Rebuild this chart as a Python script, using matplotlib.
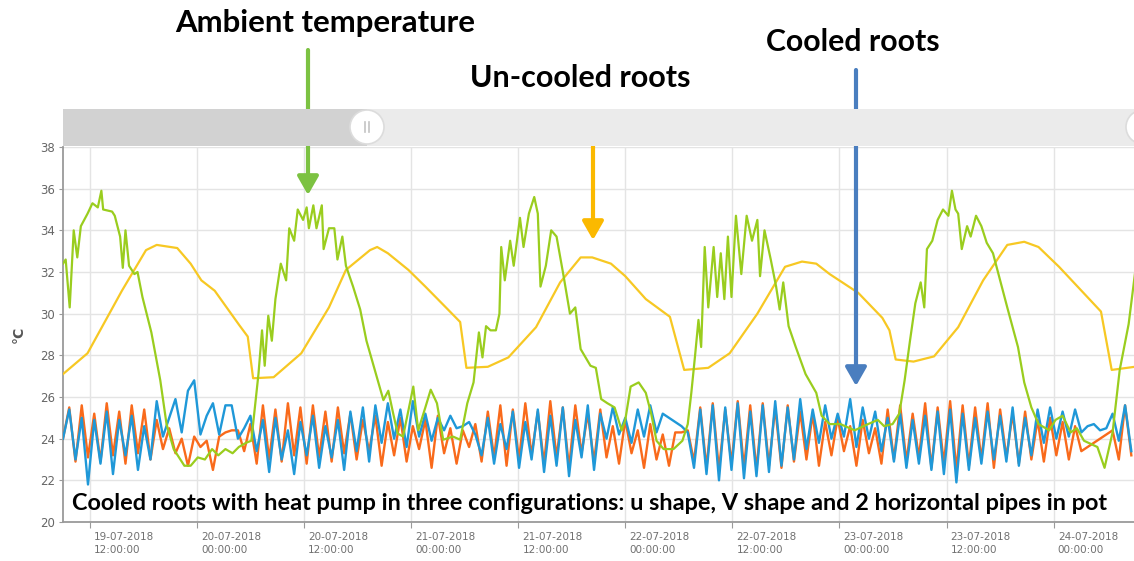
import numpy as np
import matplotlib
matplotlib.use("Agg")
import matplotlib.pyplot as plt
import matplotlib.dates as mdates
import matplotlib.transforms as mtransforms
from matplotlib.patches import Rectangle, Circle

# ---------------- data ----------------
START = np.datetime64("2018-07-19T09:00")
END_H = 120.0

# Ambient temperature (green): hours since start, values (degC)
amb_h = [0.0, 0.3, 0.75, 1.2, 1.6, 2.0, 2.75, 3.3, 3.9, 4.3, 4.5, 5.5, 5.8, 6.4, 6.7, 7.0, 7.4, 8.0, 8.35,
         8.9, 9.9, 10.9, 11.6, 12.4, 13.6, 14.3, 15.1, 15.9, 16.7, 17.4, 18.2, 19.0, 19.7, 20.5, 21.1,
         21.5, 21.9, 22.3, 22.6, 23.0, 23.4, 23.8, 24.4, 25.0, 25.35, 25.9, 26.3, 26.9, 27.3, 27.55,
         28.05, 28.4, 29.0, 29.2, 29.8, 30.4, 30.75, 31.3, 31.7, 32.5, 33.3, 34.0, 34.8, 35.6, 35.9,
         36.45, 37.0, 37.5, 38.1, 39.25, 39.8, 40.6, 41.2, 41.9, 42.6, 43.7, 44.5, 45.3, 46.0, 46.2,
         46.6, 47.0, 47.4, 47.9, 48.5, 48.9, 49.1, 49.5, 50.1, 50.5, 51.2, 51.6, 52.2, 52.8, 53.2,
         53.5, 54.1, 54.7, 55.3, 56.05, 56.8, 57.4, 58.0, 59.1, 59.7, 60.3, 61.0, 61.8, 62.6, 63.0,
         63.6, 64.5, 65.3, 65.9, 66.5, 67.3, 68.4, 69.4, 70.0, 70.4, 70.8, 71.2, 71.5, 71.9, 72.3,
         72.9, 73.3, 73.7, 74.1, 74.5, 74.9, 75.4, 76.0, 76.6, 77.2, 77.8, 78.1, 78.6, 79.3, 79.9,
         80.3, 80.7, 81.3, 82.1, 83.2, 84.4, 85.0, 85.9, 87.1, 88.7, 90.2, 91.3, 92.0, 92.95, 93.7,
         94.3, 94.9, 95.5, 96.1, 96.5, 96.8, 97.4, 98.0, 98.6, 99.2, 99.6, 100.0, 100.3, 100.7, 101.3,
         101.7, 102.3, 102.9, 103.5, 104.2, 105.0, 105.8, 107.0, 107.7, 108.5, 109.3, 110.5, 111.2,
         112.0, 112.9, 113.6, 114.4, 115.9, 116.7, 117.6, 118.4, 119.4, 120.1]
amb_v = [32.4, 32.6, 30.3, 34.0, 32.7, 34.2, 34.8, 35.3, 35.1, 35.9, 35.0, 34.9, 34.7, 33.7, 32.2, 34.0, 32.3, 31.9, 32.0,
         30.8, 29.1, 26.8, 24.7, 23.5, 22.7, 22.7, 23.1, 23.0, 23.5, 23.2, 23.5, 23.3, 23.6, 23.8, 23.9,
         25.5, 27.1, 29.2, 27.5, 29.9, 28.7, 30.7, 32.4, 31.6, 34.1, 33.5, 35.0, 34.5, 35.1, 34.1,
         35.2, 34.1, 35.2, 33.1, 34.1, 34.1, 32.6, 33.7, 32.3, 31.3, 30.2, 28.7, 27.5, 26.3, 25.85,
         26.3, 25.2, 24.25, 24.1, 26.5, 24.4, 25.5, 26.35, 25.7, 23.95, 24.1, 23.95, 25.7, 26.7, 27.5,
         29.1, 27.9, 29.4, 29.2, 29.2, 30.0, 33.2, 31.6, 33.5, 32.3, 34.6, 33.2, 34.8, 35.6, 34.8,
         31.3, 32.3, 34.0, 33.7, 31.9, 30.0, 30.3, 28.3, 27.5, 27.4, 25.9, 25.7, 25.5, 24.4, 24.9,
         26.5, 26.7, 26.2, 25.2, 23.9, 23.5, 23.5, 23.9, 24.7, 26.2, 27.9, 29.7, 28.4, 33.2, 30.3,
         33.2, 30.8, 32.9, 30.7, 33.7, 30.8, 34.7, 31.9, 34.7, 33.5, 34.5, 31.8, 34.0, 32.6, 31.3,
         30.2, 31.5, 29.4, 28.4, 27.1, 26.2, 25.1, 24.7, 24.7, 24.4, 24.7, 24.9, 24.6, 24.7, 25.2,
         26.8, 28.7, 30.5, 31.5, 30.3, 33.1, 33.5, 34.5, 35.0, 34.7, 35.9, 35.0, 34.8, 33.1, 34.2,
         33.7, 34.7, 34.2, 33.4, 32.9, 31.6, 30.3, 28.4, 26.7, 25.5, 24.7, 24.4, 24.9,
         25.1, 24.3, 24.5, 23.9, 23.6, 22.6, 24.3, 27.3, 29.5, 31.9]

# Un-cooled roots (yellow)
unc_h = [0.0, 2.75, 6.6, 9.3, 10.5, 12.8, 14.3, 15.5, 17.0, 19.75, 20.7, 21.3, 23.6, 26.7, 29.8, 31.7, 34.4,
         35.2, 36.4, 38.7, 40.6, 42.9, 44.5, 45.2, 47.6, 49.9, 53.0, 55.7, 58.0, 59.3, 61.4, 63.0, 65.3,
         68.0, 69.6, 72.3, 74.7, 77.8, 80.9, 82.8, 84.4, 85.9, 89.1, 91.8, 92.6, 93.3, 95.3, 97.6, 100.3,
         103.1, 105.8, 107.7, 109.3, 111.6, 115.1, 116.3, 117.5, 120.1]
unc_v = [27.1, 28.1, 31.1, 33.05, 33.3, 33.15, 32.4, 31.6, 31.1, 29.45, 28.9, 26.9, 26.95, 28.1, 30.3, 32.1, 33.05,
         33.2, 32.9, 32.1, 31.3, 30.3, 29.6, 27.4, 27.45, 27.9, 29.35, 31.5, 32.7, 32.7, 32.4, 31.8, 30.7,
         29.85, 27.3, 27.4, 28.1, 30.0, 32.25, 32.5, 32.4, 31.9, 31.0, 29.8, 29.2, 27.8, 27.7, 27.95, 29.35,
         31.6, 33.3, 33.45, 33.2, 32.25, 30.65, 30.1, 27.3, 27.45]

# Cooled roots, sampled every STEP_H hours
STEP_H = 0.7
cool_orange = [24.0, 25.5, 22.9, 25.6, 23.1, 25.2, 22.9, 25.7, 23.2, 25.3, 22.8, 25.6, 23.3, 25.4, 23.0,
               24.9, 23.5, 24.5, 23.3, 24.0, 22.7, 24.1, 23.6, 23.9, 22.5, 24.1, 24.3, 24.4, 24.4, 23.4, 24.7,
               22.8, 25.6, 23.0, 25.4, 22.9, 25.7, 23.2, 25.5, 22.8, 25.6, 23.1, 25.3, 22.9, 25.5, 23.3, 25.2, 23.0, 24.9, 23.4, 25.1,
               22.7, 24.8, 23.2, 25.0, 22.9, 24.6, 23.5, 24.9, 22.6, 25.1, 23.3, 24.5, 22.8, 24.4, 23.6, 24.7,
               22.9, 25.3, 23.1, 25.6, 22.7, 25.4, 23.0, 25.7, 23.2, 25.3, 22.8, 25.8, 23.1, 25.5, 22.6, 25.6, 23.3, 25.2, 22.9, 25.4,
               23.1, 24.6, 22.8, 24.9, 23.3, 24.4, 22.6, 24.7, 23.0, 24.2, 22.7, 24.3, 24.3, 24.4,
               22.9, 25.5, 22.6, 25.7, 22.5, 25.4, 22.8, 25.8, 22.6, 25.6, 22.5, 25.7, 22.7, 25.5, 22.6, 25.6, 22.9, 25.3, 23.0, 25.2, 22.7, 24.8, 23.2, 25.0,
               23.4, 24.6, 22.7, 24.9, 23.3, 24.5, 22.8, 25.4, 23.0, 25.6, 22.9, 25.2, 23.1, 25.7, 22.6, 25.5,
               22.8, 25.8, 22.5, 25.6, 22.7, 25.5, 23.0, 25.7, 22.6, 25.4, 23.1, 25.2, 22.8, 25.3, 23.0, 24.9,
               22.9, 25.0, 23.2, 24.8, 23.0, 24.6, 23.4, 23.6, 23.8, 24.0, 24.2, 24.4, 23.0, 25.6, 23.2]
cool_blue = [24.0, 25.4, 23.0, 25.0, 21.8, 24.9, 22.8, 25.3, 22.3, 24.9, 23.2, 25.1, 22.5, 24.6, 23.0,
             25.8, 24.1, 25.0, 25.9, 24.3, 26.3, 26.8, 24.2, 25.1, 25.7, 24.2, 25.6, 25.6, 24.0, 24.5, 25.1,
             23.4, 24.9, 22.4, 25.0, 23.0, 24.4, 22.3, 24.8, 23.2, 25.1, 22.6, 24.6, 23.1, 24.9, 22.5, 25.3, 23.4, 25.5, 22.9, 25.6,
             23.8, 25.7, 24.0, 25.4, 23.6, 25.8, 24.1, 25.2, 23.9, 25.0, 24.4, 25.1, 24.5, 24.6, 24.8, 24.2,
             23.2, 25.0, 22.8, 24.7, 23.5, 25.3, 22.6, 24.8, 23.0, 25.4, 22.4, 25.1, 22.7, 25.5, 22.2, 24.9, 23.1, 25.6, 22.5, 25.2,
             24.0, 25.5, 24.2, 25.0, 23.8, 25.4, 24.1, 25.6, 24.3, 25.2, 25.0, 24.8, 24.6, 24.3,
             22.6, 25.4, 22.3, 25.6, 22.0, 25.5, 22.5, 25.7, 22.1, 25.3, 22.2, 25.6, 22.4, 25.8, 22.7, 25.5, 23.0, 25.9, 23.5, 25.4, 23.8, 25.6, 24.0, 25.2,
             24.1, 25.9, 23.6, 25.5, 24.0, 25.3, 23.4, 25.0, 22.9, 25.2, 22.6, 24.9, 22.8, 25.1, 22.5, 25.3,
             22.3, 25.4, 21.9, 25.2, 22.5, 25.0, 22.8, 25.3, 23.0, 25.1, 22.9, 25.5, 22.7, 25.0, 23.2, 25.4,
             23.8, 25.5, 24.0, 25.3, 24.1, 25.4, 24.3, 24.6, 24.7, 24.4, 24.5, 25.2, 23.9, 25.6, 23.4]

y_ticks = [20, 22, 24, 26, 28, 30, 32, 34, 36, 38]
x_tick_times = ["2018-07-19T12:00", "2018-07-20T00:00", "2018-07-20T12:00", "2018-07-21T00:00",
                "2018-07-21T12:00", "2018-07-22T00:00", "2018-07-22T12:00", "2018-07-23T00:00",
                "2018-07-23T12:00", "2018-07-24T00:00"]

label_ambient = "Ambient temperature"
label_uncooled = "Un-cooled roots"
label_cooled = "Cooled roots"
caption = "Cooled roots with heat pump in three configurations: u shape, V shape and 2 horizontal pipes in pot"
y_label = "°C"

C_GREEN = "#9acd1e"
C_YELLOW = "#f7c823"
C_ORANGE = "#f96a1b"
C_BLUE = "#1f98d8"


def to_time(hours):
    return START + (np.asarray(hours, dtype=float) * 3600).astype("timedelta64[s]")


# ---------------- figure ----------------
W, H = 1134, 561
fig = plt.figure(figsize=(W / 100, H / 100), dpi=100)
ax = fig.add_axes([63 / W, 39 / H, 1071 / W, 375 / H])

ax.plot(to_time(np.arange(len(cool_orange)) * STEP_H), cool_orange, color=C_ORANGE, lw=1.7, zorder=3)
ax.plot(to_time(np.arange(len(cool_blue)) * STEP_H), cool_blue, color=C_BLUE, lw=1.7, zorder=4)
ax.plot(to_time(unc_h), unc_v, color=C_YELLOW, lw=1.6, zorder=5)
ax.plot(to_time(amb_h), amb_v, color=C_GREEN, lw=1.6, zorder=6)

ax.set_xlim(START, START + np.timedelta64(int(END_H * 3600), "s"))
ax.set_ylim(20, 38)
ax.set_yticks(y_ticks)
ax.set_xticks(np.array(x_tick_times, dtype="datetime64[m]"))
ax.xaxis.set_major_formatter(mdates.DateFormatter("%d-%m-%Y\n%H:%M:%S"))
ax.grid(True, color="#e4e4e4", lw=1.0, zorder=0)
for s in ["top", "right"]:
    ax.spines[s].set_visible(False)
for s in ["left", "bottom"]:
    ax.spines[s].set_color("#9a9a9a")
    ax.spines[s].set_linewidth(1.3)
ax.tick_params(axis="y", colors="#9a9a9a", labelcolor="#666666", labelsize=8.5, length=3, pad=3)
ax.tick_params(axis="x", colors="#9a9a9a", labelcolor="#707070", labelsize=7.5, length=4, pad=3)
offset = mtransforms.ScaledTranslation(3 / 72, 0, fig.dpi_scale_trans)
for lbl in ax.get_xticklabels():
    lbl.set_horizontalalignment("left")
    lbl.set_transform(lbl.get_transform() + offset)
    lbl.set_linespacing(1.45)
ax.set_ylabel(y_label, color="#555555", fontsize=10, fontweight="bold", labelpad=10)

# navigator bar
bax = fig.add_axes([63 / W, 415 / H, 1071 / W, 37 / H])
bax.set_xlim(0, 1071)
bax.set_ylim(0, 37)
bax.axis("off")
bax.add_patch(Rectangle((0, 0), 304, 37, color="#d2d2d2", lw=0))
bax.add_patch(Rectangle((304, 0), 767, 37, color="#ebebeb", lw=0))
bax.add_patch(Circle((304, 19), 17, facecolor="white", edgecolor="#dcdcdc", lw=1.2, clip_on=False))
bax.plot([302, 302], [14, 24], color="#c4c4c4", lw=1.2)
bax.plot([306, 306], [14, 24], color="#c4c4c4", lw=1.2)
bax.add_patch(Circle((1080, 19), 17, facecolor="white", edgecolor="#dcdcdc", lw=1.2, clip_on=False))

# annotations
texts = []
def add_text(s, xc, yc, size, target_w):
    t = fig.text(xc / W, 1 - yc / H, s, ha="center", va="center", fontsize=size,
                 fontweight="bold", family=["Lato", "DejaVu Sans"], color="black")
    texts.append((t, target_w))
    return t

add_text(label_ambient, 325, 23, 19, 300)
add_text(label_uncooled, 580, 78, 19, 220)
add_text(label_cooled, 853, 42, 19, 173)
add_text(caption, 590, 503, 13, 1036)

fig.canvas.draw()
r = fig.canvas.get_renderer()
for t, tw in texts:
    w = t.get_window_extent(r).width
    t.set_fontsize(t.get_fontsize() * tw / w)


def arrow(x, y0, y1, color):
    ax.annotate("", xy=(x, H - y1), xytext=(x, H - y0), xycoords="figure pixels",
                textcoords="figure pixels",
                arrowprops=dict(arrowstyle="-|>,head_length=0.7,head_width=0.4", color=color,
                                lw=3.0, shrinkA=0, shrinkB=0, mutation_scale=16),
                annotation_clip=False, zorder=10)

arrow(308, 50, 195, "#7cc242")
arrow(593, 113, 240, "#fbb900")
arrow(856, 70, 386, "#4a7ebf")

fig.savefig("out.png", dpi=100)
